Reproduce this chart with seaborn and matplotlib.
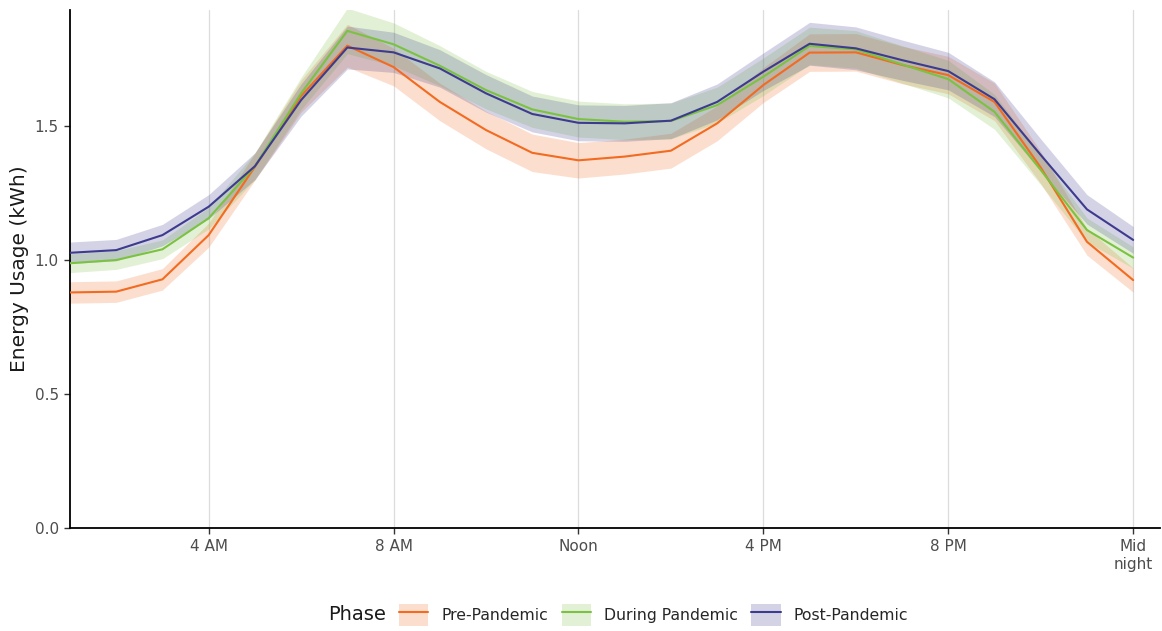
import matplotlib
matplotlib.use("Agg")
import matplotlib.pyplot as plt
from matplotlib.patches import Patch
from matplotlib.lines import Line2D
import seaborn as sns
import pandas as pd
import numpy as np

hours = list(range(1, 25))

pre_pandemic = [0.879, 0.882, 0.928, 1.093, 1.348, 1.612, 1.800, 1.720, 1.590, 1.485,
                1.400, 1.372, 1.386, 1.408, 1.510, 1.653, 1.774, 1.775, 1.728, 1.690,
                1.590, 1.345, 1.068, 0.925]
during_pandemic = [0.988, 1.000, 1.040, 1.156, 1.350, 1.622, 1.855, 1.805, 1.725, 1.634,
                   1.562, 1.526, 1.516, 1.519, 1.578, 1.684, 1.799, 1.786, 1.730, 1.675,
                   1.553, 1.336, 1.112, 1.009]
post_pandemic = [1.027, 1.037, 1.093, 1.199, 1.350, 1.597, 1.793, 1.775, 1.715, 1.622,
                 1.545, 1.512, 1.510, 1.520, 1.590, 1.703, 1.807, 1.790, 1.746, 1.705,
                 1.600, 1.392, 1.189, 1.075]

# 95% CI half-widths per hour
pre_ci = [0.040, 0.040, 0.040, 0.045, 0.050, 0.060, 0.080, 0.070, 0.070, 0.070,
          0.070, 0.066, 0.065, 0.065, 0.065, 0.065, 0.070, 0.070, 0.070, 0.070,
          0.070, 0.060, 0.050, 0.045]
during_ci = [0.035, 0.035, 0.035, 0.040, 0.050, 0.060, 0.085, 0.080, 0.075, 0.070,
             0.067, 0.067, 0.067, 0.067, 0.067, 0.070, 0.070, 0.070, 0.070, 0.070,
             0.065, 0.055, 0.045, 0.040]
post_ci = [0.040, 0.040, 0.040, 0.045, 0.050, 0.060, 0.080, 0.075, 0.070, 0.070,
           0.067, 0.067, 0.067, 0.067, 0.067, 0.070, 0.080, 0.080, 0.075, 0.070,
           0.065, 0.060, 0.055, 0.050]

phases = ["Pre-Pandemic", "During Pandemic", "Post-Pandemic"]
colors = {"Pre-Pandemic": "#f26b21", "During Pandemic": "#7cc242", "Post-Pandemic": "#3d3b8e"}

x_ticks = [4, 8, 12, 16, 20, 24]
x_labels = ["4 AM", "8 AM", "Noon", "4 PM", "8 PM", "Mid\nnight"]
y_ticks = [0.0, 0.5, 1.0, 1.5]
y_labels = ["0.0", "0.5", "1.0", "1.5"]

series = {"Pre-Pandemic": (pre_pandemic, pre_ci),
          "During Pandemic": (during_pandemic, during_ci),
          "Post-Pandemic": (post_pandemic, post_ci)}

df = pd.concat([
    pd.DataFrame({"hour": hours, "usage": vals, "ci": ci, "Phase": ph})
    for ph, (vals, ci) in series.items()
], ignore_index=True)

sns.set_style("white")
plt.rcParams["font.family"] = ["DejaVu Sans"]

fig = plt.figure(figsize=(11.62, 6.31), dpi=100)
ax = fig.add_axes([70 / 1162, 1 - 528 / 631, 1090 / 1162, 518 / 631])

for ph in phases:
    d = df[df["Phase"] == ph]
    ax.fill_between(d["hour"], d["usage"] - d["ci"], d["usage"] + d["ci"],
                    color=colors[ph], alpha=0.22, linewidth=0, zorder=2)

sns.lineplot(data=df, x="hour", y="usage", hue="Phase", hue_order=phases,
             palette=colors, estimator=None, errorbar=None, linewidth=1.5,
             legend=False, ax=ax, zorder=3)

ax.set_xlim(1, 24.58)
ax.set_ylim(0, 1.933)
ax.set_xticks(x_ticks)
ax.set_xticklabels(x_labels, multialignment="center")
ax.set_yticks(y_ticks)
ax.set_yticklabels(y_labels)
ax.set_xlabel("")
ax.set_ylabel("Energy Usage (kWh)", fontsize=14.5, color="#1a1a1a", labelpad=4)

for x in x_ticks:
    ax.axvline(x, color="#dcdcdc", linewidth=0.9, zorder=0)

for side in ["top", "right"]:
    ax.spines[side].set_visible(False)
for side in ["left", "bottom"]:
    ax.spines[side].set_color("black")
    ax.spines[side].set_linewidth(1.3)

ax.tick_params(axis="both", which="major", length=4, width=1.0, color="#333333",
               labelsize=11, labelcolor="#4d4d4d", direction="out", pad=4)
ax.tick_params(axis="x", bottom=True)
ax.tick_params(axis="y", left=True)

handles = [(Patch(facecolor=colors[ph], alpha=0.22, edgecolor="none"),
            Line2D([], [], color=colors[ph], linewidth=1.5)) for ph in phases]
fig.text(328 / 1162, 1 - 615 / 631, "Phase", fontsize=14, color="#1a1a1a",
         ha="left", va="center")
fig.legend(handles, phases, loc="center left", bbox_to_anchor=(399 / 1162, 1 - 615 / 631),
           ncol=3, frameon=False, fontsize=11.3, handlelength=1.86, handleheight=1.85,
           handletextpad=0.85, columnspacing=0.85, borderaxespad=0, borderpad=0)

fig.savefig("out.png", dpi=100)
